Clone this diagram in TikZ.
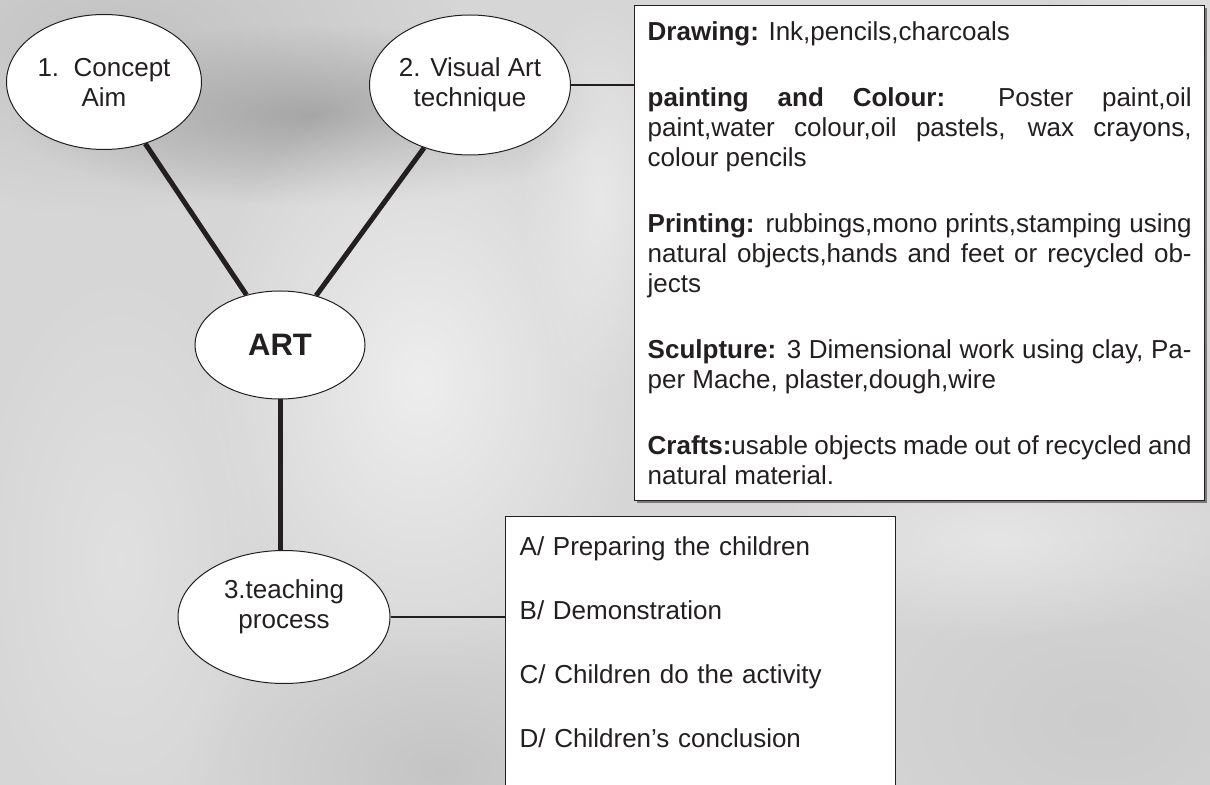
\documentclass[tikz,border=0pt]{standalone}
\usepackage{fontspec}
\setmainfont{Liberation Sans}
\usetikzlibrary{shapes.geometric,shadows,fadings}
\definecolor{ink}{HTML}{231F20}
\definecolor{bgbase}{HTML}{D6D6D6}
\definecolor{bgdark}{HTML}{9C9C9C}
\definecolor{bgmid}{HTML}{BDBDBD}
\definecolor{bglight}{HTML}{F0F0F0}
\tikzfading[name=softblob, inner color=transparent!0, outer color=transparent!100]
\begin{document}
\begin{tikzpicture}
    [x=0.5pt, y=-0.5pt,
     topic/.style={ellipse, draw=ink, line width=0.5pt, fill=white, inner sep=0pt, align=center, text=ink, font=\fontsize{13pt}{15pt}\selectfont},
     listbox/.style={rectangle, draw=ink, line width=0.7pt, fill=white, text=ink, font=\fontsize{13pt}{15pt}\selectfont, anchor=north west},
     link/.style={ink, line width=2.5pt},
     blob/.style n args={3}{path fading=softblob, fit fading=false, fading transform={shift={#1}, xscale=#2, yscale=#3}}]

    % photo background, soft patches
    \useasboundingbox (0,0) rectangle (1210,785);
    \clip (0,0) rectangle (1210,785);
    \fill[bgbase] (0,0) rectangle (1210,785);
    \fill[bgmid, fill opacity=0.8, blob={(120,40)}{7}{3.5}] (0,0) rectangle (1210,785);
    \fill[bgdark, fill opacity=0.8, blob={(310,115)}{6}{1.8}] (0,0) rectangle (1210,785);
    \fill[bglight, fill opacity=0.9, blob={(420,380)}{4.5}{6}] (0,0) rectangle (1210,785);
    \fill[bglight, fill opacity=0.7, blob={(600,200)}{1.6}{4}] (0,0) rectangle (1210,785);
    \fill[bglight, fill opacity=0.4, blob={(120,560)}{3}{6}] (0,0) rectangle (1210,785);
    \fill[bgmid, fill opacity=0.7, blob={(440,770)}{5}{3.2}] (0,0) rectangle (1210,785);
    \fill[bgmid, fill opacity=0.4, blob={(1100,720)}{6}{4}] (0,0) rectangle (1210,785);
    \fill[bglight, fill opacity=0.6, blob={(1000,540)}{5}{2}] (0,0) rectangle (1210,785);
    \fill[bglight, fill opacity=0.6, blob={(1180,150)}{3.5}{5}] (0,0) rectangle (1210,785);

    \node[topic, minimum width=97.5pt, minimum height=67.5pt] (aim) at (104,82) {1.~~Concept\\Aim};
    \node[topic, minimum width=97.5pt, minimum height=70pt] (visual) at (470,85) {2. Visual Art\\technique};
    \node[topic, minimum width=85pt, minimum height=54pt, font=\fontsize{15.5pt}{18pt}\selectfont\bfseries] (art) at (280,345) {ART};
    \node[topic, minimum width=106pt, minimum height=66.5pt] (teach) at (284,617) {3.teaching\\process\\[-2pt]\mbox{}};

    \node[listbox, align=justify, text width=272pt, inner xsep=6.5pt, inner ysep=8pt,
          drop shadow={shadow xshift=1.2pt, shadow yshift=-1.2pt, fill=ink!60, opacity=1}] (media) at (634,5)
        {\textbf{Drawing:} Ink,pencils,charcoals\\[18pt]
         \textbf{painting and Colour:} Poster paint,oil\linebreak
         paint,water colour,oil pastels, wax crayons,\linebreak
         colour pencils\\[18pt]
         \textbf{Printing:} rubbings,mono prints,stamping using\linebreak
         natural objects,hands and feet or recycled ob-\linebreak
         jects\\[18pt]
         \textbf{Sculpture:} 3 Dimensional work using clay, Pa-\linebreak
         per Mache, plaster,dough,wire\\[18pt]
         \textbf{Crafts:}usable objects made out of recycled and\linebreak
         natural material.};

    \node[listbox, align=left, text width=181pt, inner xsep=7pt, inner ysep=10pt] (steps) at (505,516)
        {A/ Preparing the children\\[17pt]
         B/ Demonstration\\[17pt]
         C/ Children do the activity\\[17pt]
         D/ Children's conclusion\\[40pt]\mbox{}};

    \draw[link] (aim) -- (art);
    \draw[link] (visual) -- (art);
    \draw[link] (art) -- (art |- teach.north);
    \draw[ink, line width=0.6pt] (visual.east) -- (visual.east -| media.west);
    \draw[ink, line width=1.2pt] (teach.east) -- (teach.east -| steps.west);
\end{tikzpicture}
\end{document}
